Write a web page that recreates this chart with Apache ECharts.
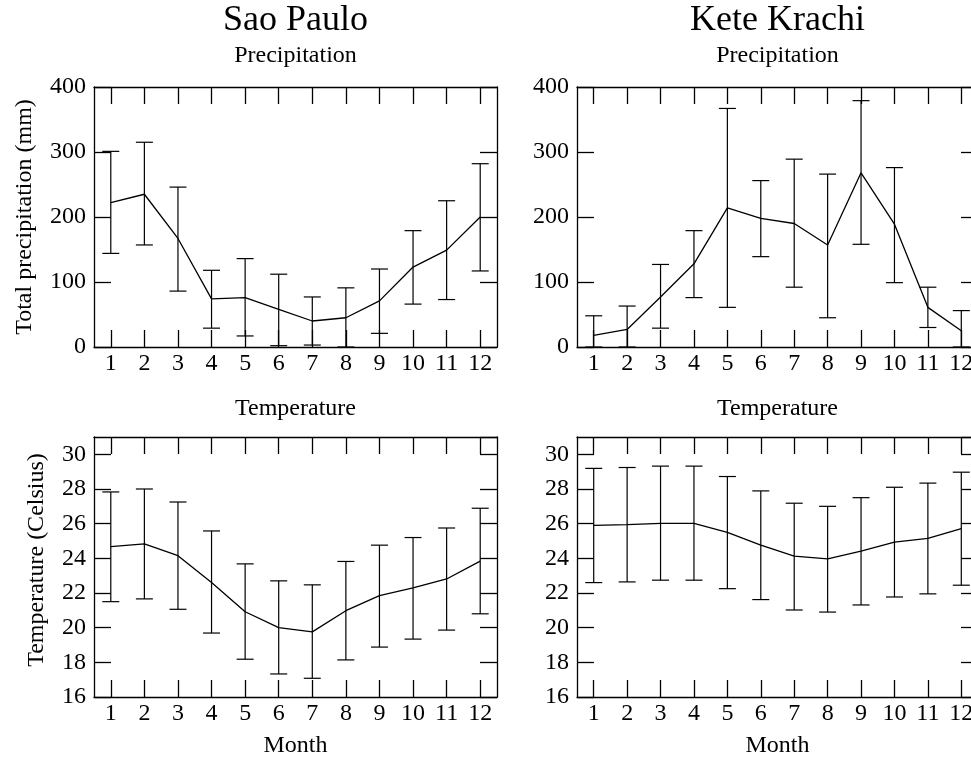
<!DOCTYPE html>
<html>
<head>
<meta charset="utf-8">
<script src="https://cdn.jsdelivr.net/npm/echarts@6/dist/echarts.min.js"></script>
<style>
  html, body { margin: 0; padding: 0; background: #fff; overflow: hidden; }
  #chart { width: 971px; height: 760px; }
</style>
</head>
<body>
<div id="chart"></div>
<script>
// Data
const months = ['1', '2', '3', '4', '5', '6', '7', '8', '9', '10', '11', '12'];

const spPrecipMean = [222, 235, 167, 74, 76, 58, 40, 45, 71, 123, 149, 200];
const spPrecipHigh = [301, 315, 246, 118, 136, 112, 77, 91, 120, 179, 225, 282];
const spPrecipLow = [144, 157, 86, 29, 17, 2, 3, 0, 21, 66, 73, 117];

const kkPrecipMean = [18, 27, 77, 128, 214, 198, 190, 157, 268, 189, 61, 25];
const kkPrecipHigh = [48, 63, 127, 179, 367, 256, 289, 266, 379, 276, 92, 56];
const kkPrecipLow = [0, 0, 29, 76, 61, 139, 92, 45, 158, 99, 30, 0];

const spTempMean = [24.67, 24.84, 24.15, 22.6, 20.92, 20.0, 19.76, 20.98, 21.85, 22.29, 22.81, 23.84];
const spTempHigh = [27.83, 28.0, 27.25, 25.58, 23.68, 22.7, 22.47, 23.82, 24.76, 25.2, 25.75, 26.89];
const spTempLow = [21.5, 21.66, 21.06, 19.69, 18.18, 17.33, 17.08, 18.14, 18.88, 19.34, 19.86, 20.8];

const kkTempMean = [25.9, 25.94, 26.02, 26.02, 25.5, 24.76, 24.13, 23.97, 24.42, 24.94, 25.15, 25.71];
const kkTempHigh = [29.19, 29.24, 29.32, 29.32, 28.72, 27.89, 27.18, 27.0, 27.5, 28.1, 28.34, 28.97];
const kkTempLow = [22.6, 22.64, 22.74, 22.74, 22.25, 21.62, 21.02, 20.9, 21.31, 21.77, 21.95, 22.45];

const FONT = 'Liberation Serif';
const BLACK = '#000';

// Panel layout
const panels = [
  {left: 94, top: 87, mean: spPrecipMean, low: spPrecipLow, high: spPrecipHigh,
    min: 0, max: 400, interval: 100, yName: 'Total precipitation (mm)', yGap: 57, xName: ''},
  {left: 577, top: 87, mean: kkPrecipMean, low: kkPrecipLow, high: kkPrecipHigh,
    min: 0, max: 400, interval: 100, yName: '', yGap: 57, xName: ''},
  {left: 94, top: 437, mean: spTempMean, low: spTempLow, high: spTempHigh,
    min: 16, max: 31, interval: 2, yName: 'Temperature (Celsius)', yGap: 45, xName: 'Month'},
  {left: 577, top: 437, mean: kkTempMean, low: kkTempLow, high: kkTempHigh,
    min: 16, max: 31, interval: 2, yName: '', yGap: 45, xName: 'Month'}
];

function titleText(text, x, top, size) {
  return {
    text: text,
    left: x,
    top: top,
    padding: 0,
    textAlign: 'center',
    textStyle: {fontFamily: FONT, fontSize: size, fontWeight: 'normal', color: BLACK}
  };
}

function renderErrorBar(params, api) {
  const x = api.value(0);
  const lo = api.coord([x, api.value(1)]);
  const hi = api.coord([x, api.value(2)]);
  const half = 8.5;
  const style = {stroke: BLACK, lineWidth: 1.2};
  return {
    type: 'group',
    children: [
      {type: 'line', shape: {x1: hi[0], y1: hi[1], x2: lo[0], y2: lo[1]}, style: style},
      {type: 'line', shape: {x1: hi[0] - half, y1: hi[1], x2: hi[0] + half, y2: hi[1]}, style: style},
      {type: 'line', shape: {x1: lo[0] - half, y1: lo[1], x2: lo[0] + half, y2: lo[1]}, style: style}
    ]
  };
}

const grid = [];
const xAxis = [];
const yAxis = [];
const series = [];

const axisLine = {show: true, onZero: false, lineStyle: {color: BLACK, width: 1.3}};
const tickInside = {show: true, inside: true, length: 17, lineStyle: {color: BLACK, width: 1.3}};
const labelStyle = {fontFamily: FONT, fontSize: 24, color: BLACK};

panels.forEach((p, i) => {
  grid.push({left: p.left, top: p.top, width: 401 + (p.left === 94 ? 2 : 0), height: 260,
    outerBoundsMode: 'none'});
  // bottom x axis with labels
  xAxis.push({
    type: 'category', gridIndex: i, position: 'bottom', data: months,
    boundaryGap: true,
    axisLine: axisLine,
    axisTick: Object.assign({alignWithLabel: true}, tickInside),
    axisLabel: Object.assign({margin: 5}, labelStyle),
    splitLine: {show: false},
    name: p.xName, nameLocation: 'middle', nameGap: 37,
    nameTextStyle: labelStyle, nameMoveOverlap: false
  });
  // top mirror x axis
  xAxis.push({
    type: 'category', gridIndex: i, position: 'top', data: months,
    boundaryGap: true,
    axisLine: axisLine,
    axisTick: Object.assign({alignWithLabel: true}, tickInside),
    axisLabel: {show: false},
    splitLine: {show: false}
  });
  // left y axis with labels
  yAxis.push({
    type: 'value', gridIndex: i, position: 'left',
    min: p.min, max: p.max, interval: p.interval,
    axisLine: axisLine,
    axisTick: tickInside,
    axisLabel: Object.assign({margin: 8, showMaxLabel: p.max !== 31}, labelStyle),
    splitLine: {show: false},
    name: p.yName, nameLocation: 'middle', nameGap: p.yGap,
    nameTextStyle: Object.assign({padding: p.min === 16 ? [0, 0, 0, 14] : 0}, labelStyle),
    nameMoveOverlap: false
  });
  // right mirror y axis
  yAxis.push({
    type: 'value', gridIndex: i, position: 'right',
    min: p.min, max: p.max, interval: p.interval,
    axisLine: axisLine,
    axisTick: tickInside,
    axisLabel: {show: false},
    splitLine: {show: false}
  });

  series.push({
    type: 'line',
    xAxisIndex: i * 2,
    yAxisIndex: i * 2,
    data: p.mean,
    showSymbol: false,
    symbol: 'none',
    lineStyle: {color: BLACK, width: 1.3},
    z: 3
  });
  series.push({
    type: 'custom',
    xAxisIndex: i * 2,
    yAxisIndex: i * 2,
    clip: true,
    renderItem: renderErrorBar,
    encode: {x: 0, y: [1, 2]},
    data: months.map((m, k) => [k, p.low[k], p.high[k]]),
    z: 2
  });
});

const chart = echarts.init(document.getElementById('chart'), null, {renderer: 'canvas'});
chart.setOption({
  animation: false,
  backgroundColor: '#fff',
  title: [
    titleText('Sao Paulo', 295.5, 3, 36),
    titleText('Kete Krachi', 777.5, 3, 36),
    titleText('Precipitation', 295.5, 44, 24),
    titleText('Precipitation', 777.5, 44, 24),
    titleText('Temperature', 295.5, 397, 24),
    titleText('Temperature', 777.5, 397, 24)
  ],
  grid: grid,
  xAxis: xAxis,
  yAxis: yAxis,
  series: series
});
</script>
</body>
</html>
